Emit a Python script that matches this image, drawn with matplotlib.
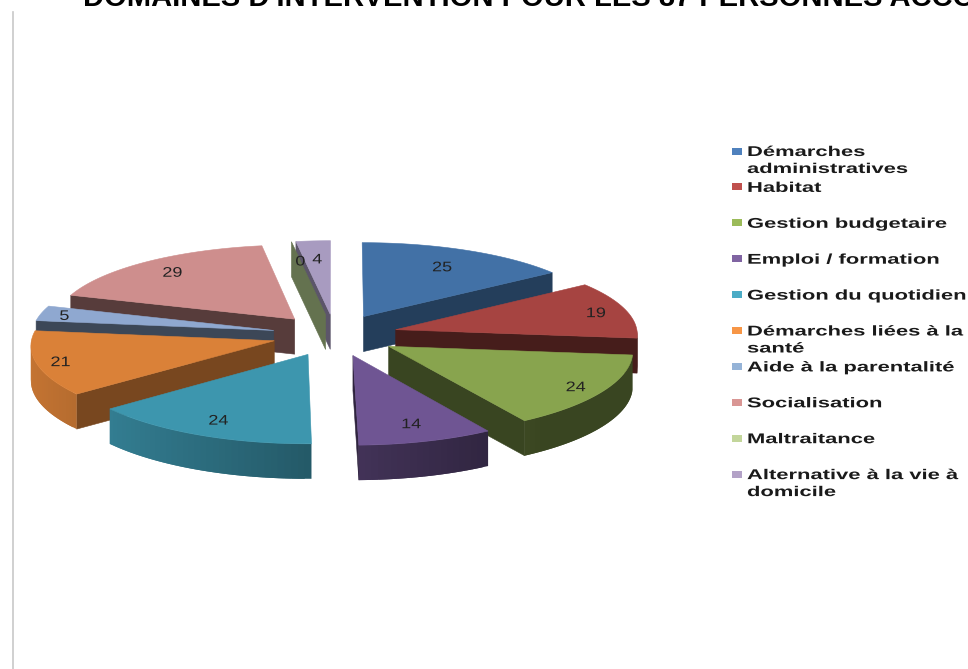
import numpy as np
import matplotlib
matplotlib.use("Agg")
import matplotlib.pyplot as plt
import matplotlib.patheffects as pe
from matplotlib.patches import Polygon, Rectangle
from matplotlib.colors import to_rgb
from matplotlib.transforms import Affine2D

TITLE = "DOMAINES D'INTERVENTION POUR LES 87 PERSONNES ACCOMPAGNEES"

categories = [
    "Démarches\nadministratives", "Habitat", "Gestion budgetaire",
    "Emploi / formation", "Gestion du quotidien", "Démarches liées à la\nsanté",
    "Aide à la parentalité", "Socialisation", "Maltraitance",
    "Alternative à la vie à\ndomicile",
]
values = [25, 19, 24, 14, 24, 21, 5, 29, 0, 4]
colors = ["#4271A6", "#A64441", "#88A44E", "#6F5593", "#3D96AE",
          "#DA8138", "#8FA8D0", "#CE8E8D", "#B5CF8F", "#A89BC0"]
legend_colors = ["#4F81BD", "#C0504D", "#9BBB59", "#8064A2", "#4BACC6",
                 "#F79646", "#95B3D7", "#D99694", "#C3D69B", "#B3A2C7"]
# darkness of the cut faces, and how far out each number sits
face_shade = [0.55, 0.42, 0.42, 0.42, 0.55, 0.55, 0.42, 0.42, 0.55, 0.55]
label_r = [0.75, 0.87, 0.88, 0.80, 0.82, 0.90, 0.90, 0.82, 0.73, 0.75]

CX, CY = 335, 335
RX, RY = 242, 81
PERSP_X = 0.05
PERSP_Y = 0.065
EXPLODE = 0.26
WALL = 35


class StretchX(pe.AbstractPathEffect):
    # widens a text sideways around a fixed pixel column
    def __init__(self, sx, x0):
        super().__init__()
        self.sx = sx
        self.x0 = x0

    def draw_path(self, renderer, gc, tpath, affine, rgbFace=None):
        wide = affine + Affine2D().translate(-self.x0, 0).scale(self.sx, 1).translate(self.x0, 0)
        renderer.draw_path(gc, tpath, wide, rgbFace)


def project(u, v):
    return (CX + RX * u / (1 + PERSP_X * v), CY - RY * v / (1 + PERSP_Y * v))


def shade(color, f):
    return tuple(c * f for c in to_rgb(color))


def rim_shade(theta):
    return float(np.clip(0.6 - 0.3 * np.sin(theta), 0.42, 0.9))


edges = np.radians(np.concatenate([[0], np.cumsum(values)]) * 360 / sum(values))

slices = []
for i, val in enumerate(values):
    a0, a1 = edges[i], edges[i + 1]
    mid = (a0 + a1) / 2
    ou, ov = EXPLODE * np.sin(mid), EXPLODE * np.cos(mid)
    slices.append((i, a0, a1, mid, ou, ov))

# painter's order: slices further back are drawn first
order = sorted(slices, key=lambda s: -s[5])

fig = plt.figure(figsize=(9.68, 6.69), dpi=100)
ax = fig.add_axes([0, 0, 1, 1])
ax.set_xlim(0, 968)
ax.set_ylim(669, 0)
ax.axis("off")

ax.plot([13, 13], [12, 669], color="#c8c8c8", lw=1.2)
ax.text(83, 6.5, TITLE, fontsize=21, fontweight="bold", family="Liberation Sans",
        ha="left", va="baseline", clip_on=False)

for i, a0, a1, mid, ou, ov in order:
    col = colors[i]
    apex = project(ou, ov)
    n = max(2, int(np.degrees(a1 - a0) / 1.5) + 2)
    th = np.linspace(a0, a1, n)
    rim = [project(ou + np.sin(t), ov + np.cos(t)) for t in th]

    # cut faces from the centre out to the rim, only those turned to the viewer
    ends = []
    if np.sin(a0) < 0:
        ends.append(rim[0])
    if np.sin(a1) > 0:
        ends.append(rim[-1])
    for end in ends:
        pts = [apex, end, (end[0], end[1] + WALL), (apex[0], apex[1] + WALL)]
        ax.add_patch(Polygon(pts, closed=True, fc=shade(col, face_shade[i]),
                             ec=shade(col, face_shade[i]), lw=0.4))

    # outer wall on the front half, darker towards the right;
    # each strip runs under the next one so no seams show
    for k in range(n - 1):
        t = (th[k] + th[k + 1]) / 2
        if np.cos(t) > 0:
            continue
        p, q = rim[k], rim[min(k + 2, n - 1)]
        f = rim_shade(t)
        pts = [p, q, (q[0], q[1] + WALL), (p[0], p[1] + WALL)]
        ax.add_patch(Polygon(pts, closed=True, fc=shade(col, f), ec="none"))

    if values[i] > 0:
        ax.add_patch(Polygon([apex] + rim, closed=True, fc=col, ec=col, lw=0.4))

for i, a0, a1, mid, ou, ov in slices:
    x, y = project(ou + label_r[i] * np.sin(mid), ov + label_r[i] * np.cos(mid))
    ax.text(x, y + 1, str(values[i]), ha="center", va="center", fontsize=10,
            family="Liberation Sans", color="#222222",
            path_effects=[StretchX(1.3, x)])

# legend, one row every 36 px
for i, name in enumerate(categories):
    y = 151 + 35.9 * i
    ax.add_patch(Rectangle((732, y - 3.5), 10, 7, fc=legend_colors[i], ec="none"))
    ax.text(747, y - 6, name, ha="left", va="top", fontsize=10.2, fontweight="bold",
            family="Liberation Sans", color="#1a1a1a", linespacing=1.27,
            path_effects=[StretchX(1.55, 747)])

fig.savefig("out.png", dpi=100)
